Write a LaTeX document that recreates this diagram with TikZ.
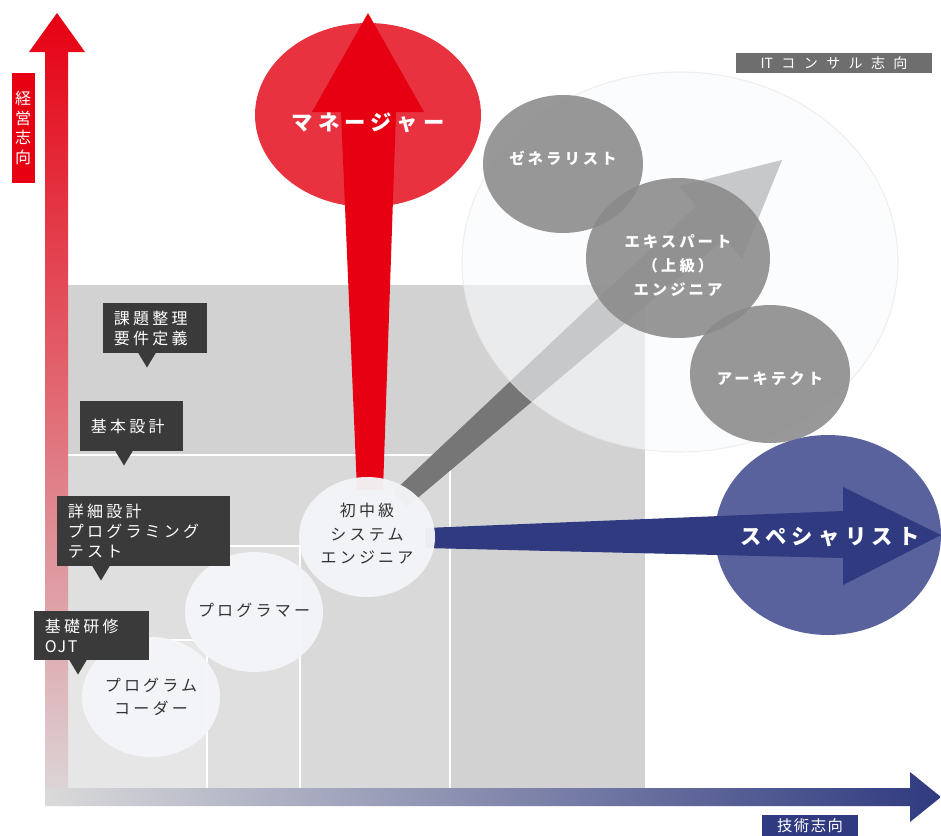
\documentclass[tikz,border=0pt]{standalone}
\usepackage{fontspec}
\usetikzlibrary{shapes.geometric,calc}
\newfontfamily\jpA{Noto Sans CJK JP}[LetterSpace=20]
\newfontfamily\jpB{Noto Sans CJK JP}[LetterSpace=25]
\newfontfamily\jpC{Noto Sans CJK JP}[LetterSpace=60]
\newfontfamily\jpD{Noto Sans CJK JP}[LetterSpace=10]
\definecolor{axred}{HTML}{E60012}
\definecolor{axmid}{HTML}{E2283E}
\definecolor{axlow}{HTML}{DCD4D6}
\definecolor{axgl}{HTML}{DADADA}
\definecolor{axhm}{HTML}{A0A3B8}
\definecolor{navy}{HTML}{2F3A80}
\definecolor{speccol}{HTML}{5A629D}
\definecolor{mgrcol}{HTML}{E8323F}
\definecolor{boxa}{HTML}{E6E6E6}
\definecolor{boxb}{HTML}{DFDFDF}
\definecolor{boxc}{HTML}{D9D9D9}
\definecolor{boxd}{HTML}{D2D2D2}
\definecolor{diag}{HTML}{767676}
\definecolor{pale}{HTML}{FAFBFD}
\definecolor{grayc}{HTML}{8A8A8A}
\definecolor{whitec}{HTML}{F3F5F8}
\definecolor{callg}{HTML}{3A3A3A}
\definecolor{itg}{HTML}{6E6E6E}
\definecolor{txtd}{HTML}{333333}
\tikzset{
  blob/.style={ellipse, inner sep=0pt, draw=none},
  graycirc/.style={blob, fill=grayc, fill opacity=0.88},
  whitecirc/.style={blob, fill=whitec, fill opacity=0.96},
  graytxt/.style={text=white, font=\jpA\bfseries\fontsize{11.5}{18}\selectfont, align=center},
  whitetxt/.style={text=txtd, font=\jpA\fontsize{12}{17.6}\selectfont, align=center},
  bigtxt/.style={text=white, font=\jpB\bfseries\fontsize{16}{20}\selectfont},
  callout/.style={fill=callg, text=white, anchor=north west, inner xsep=8pt, inner ysep=0pt,
    align=left, font=\jpA\fontsize{12}{15.2}\selectfont},
  sepline/.style={white, line width=0.9pt}
}
\begin{document}
\begin{tikzpicture}[x=0.75pt,y=-0.75pt]
\useasboundingbox (0,0) rectangle (941,835);
\fill[white] (0,0) rectangle (941,835);

% stepped gray field
\fill[boxd] (68,285) rectangle (645,788);
\fill[boxc] (68,455) rectangle (450,788);
\fill[boxb] (68,546) rectangle (300,788);
\fill[boxa] (68,640) rectangle (207,788);
\draw[sepline] (68,455) -- (450,455) -- (450,788);
\draw[sepline] (68,546) -- (300,546) -- (300,788);
\draw[sepline] (68,640) -- (207,640) -- (207,788);

% axes
\shade[top color=axred, middle color=axmid, bottom color=axlow]
  (45,790) -- (45,52) -- (29,52) -- (57,13) -- (85,52) -- (68,52) -- (68,790) -- cycle;
\shade[left color=axgl, middle color=axhm, right color=navy]
  (45,788) -- (910,788) -- (910,772) -- (941,797) -- (910,822) -- (910,806) -- (45,806) -- cycle;

% manager
\node[blob, fill=mgrcol, minimum width=169.5pt, minimum height=138pt] (mgrc) at (368,115) {};
\fill[axred] (357,490) -- (341,112) -- (312,112) -- (368,13) -- (424,112) -- (396,112) -- (383,490) -- cycle;
\node[bigtxt] (mgr) at (368,123) {マネージャー};

% diagonal arrow
\fill[diag] (393,492) -- (696,206) -- (679,186) -- (782,160) -- (742,259) -- (725,239) -- (407,507) -- cycle;

% IT consulting field
\node[blob, fill=pale, fill opacity=0.62, draw=black!10, draw opacity=0.6, line width=0.8pt,
  minimum width=327pt, minimum height=285pt] (itc) at (680,262) {};

\node[graycirc, minimum width=120pt, minimum height=103.5pt] (gen) at (563,164) {};
\node[graycirc, minimum width=138pt, minimum height=120pt] (exp) at (678,258) {};
\node[graycirc, minimum width=120pt, minimum height=103.5pt] (arch) at (770,374) {};
\node[graytxt] (gent) at (563,158) {ゼネラリスト};
\node[graytxt] (expt) at (678,265) {エキスパート\\（上級）\\エンジニア};
\node[graytxt] (archt) at (770,379) {アーキテクト};

% specialist
\node[blob, fill=speccol, minimum width=169.5pt, minimum height=150pt] (specc) at (828,535) {};
\fill[navy] (425,528) -- (843,511) -- (843,487) -- (941,535) -- (843,585) -- (843,558) -- (425,548) -- cycle;
\node[bigtxt] (spec) at (830,537) {スペシャリスト};

% white career circles
\node[whitecirc, minimum width=102pt, minimum height=90pt] (jse) at (367,537) {};
\node[whitecirc, minimum width=103.5pt, minimum height=90pt] (prg) at (254,612) {};
\node[whitecirc, minimum width=103.5pt, minimum height=90pt] (cod) at (151,697) {};
\node[whitetxt] (jset) at (367,534) {初中級\\システム\\エンジニア};
\node[whitetxt] (prgt) at (254,610) {プログラマー};
\node[whitetxt] (codt) at (151,697) {プログラム\\コーダー};

% callouts
\node[callout, text width=62pt, minimum height=37.5pt] (c1) at (103,303) {課題整理\\要件定義};
\node[callout, text width=61.25pt, minimum height=37.5pt] (c2) at (80,401) {基本設計};
\node[callout, text width=113.75pt, minimum height=52.5pt] (c3) at (57,496) {詳細設計\\プログラミング\\テスト};
\node[callout, text width=70.25pt, minimum height=36.75pt] (c4) at (34,611) {基礎研修\\{\jpD OJT}};
\foreach \c in {c1,c2,c3,c4}{
  \fill[callg] ($(\c.south west)+(35,-1)$) -- ($(\c.south west)+(53,-1)$) -- ($(\c.south west)+(44,14)$) -- cycle;
}

% axis labels
\node[fill=axred, text=white, minimum width=17.25pt, minimum height=82.5pt, inner sep=0pt,
  align=center, font=\jpD\fontsize{12}{14.6}\selectfont] (keiei) at (23,128) {経\\営\\志\\向};
\node[fill=itg, text=white, minimum width=147pt, minimum height=15pt, inner sep=0pt,
  font=\jpC\fontsize{10.5}{12}\selectfont] (itlab) at (834,63) {{\jpD I}Tコンサル志向};
\node[fill=navy, text=white, minimum width=72pt, minimum height=16.5pt, inner sep=0pt,
  font=\jpD\fontsize{11.5}{13}\selectfont] (gijutsu) at (810,826) {技術志向};
\end{tikzpicture}
\end{document}
